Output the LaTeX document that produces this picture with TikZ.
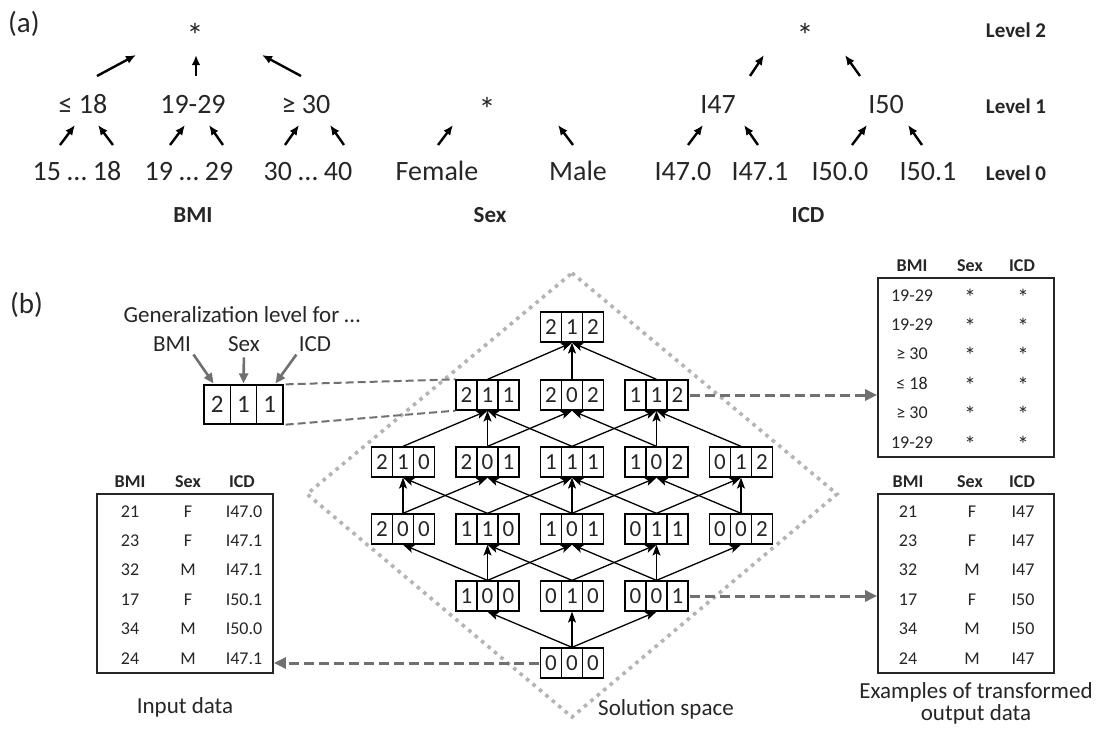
\documentclass[tikz,border=0pt]{standalone}
\usepackage{fontspec}
\setmainfont{Carlito}
\usetikzlibrary{arrows.meta}
\definecolor{tc}{HTML}{262626}
\definecolor{dgray}{HTML}{707070}
\definecolor{lgray}{HTML}{B4B4B4}
\newcommand{\myfs}[1]{\fontsize{#1}{#1}\selectfont}
\newcommand{\tri}[3]{\makebox[21pt]{#1}\makebox[21pt]{#2}\makebox[21pt]{#3}}
\newcommand{\bigtri}[3]{\makebox[26.3pt]{#1}\makebox[26.3pt]{#2}\makebox[26.3pt]{#3}}
\begin{document}
\begin{tikzpicture}[x=1pt,y=-1pt,
  every node/.style={inner sep=0pt, text=tc},
  lv/.style={font=\myfs{28}, anchor=base},
  star/.style={font=\myfs{34}, anchor=base},
  lvb/.style={font=\bfseries\myfs{21}, anchor=base},
  hb/.style={font=\bfseries\myfs{23}, anchor=base},
  gl/.style={font=\myfs{23}, anchor=base},
  th/.style={font=\bfseries\myfs{18}, anchor=base},
  td/.style={font=\myfs{18}, anchor=base},
  tstar/.style={font=\myfs{23}, anchor=base},
  harr/.style={line width=2.4pt, -{Latex[length=10pt,width=8.5pt]}},
  latarr/.style={line width=1.3pt, -{Stealth[length=11pt,width=8pt,inset=2.5pt]}},
  garr/.style={dgray, line width=2.6pt, -{Triangle[length=10pt,width=9pt]}},
  dasharr/.style={dgray, line width=3pt, dash pattern=on 10pt off 5pt, -{Triangle[length=12pt,width=11pt]}},
  thindash/.style={dgray, line width=2pt, dash pattern=on 8pt off 4pt},
  tbox/.style={draw=tc, line width=1.8pt, minimum width=176pt, minimum height=179pt},
  cell/.style={draw=black, line width=1.3pt, minimum height=30pt, font=\myfs{23},
     path picture={\draw[line width=1.3pt]
       ([xshift=#1]path picture bounding box.south west) -- ([xshift=#1]path picture bounding box.north west)
       ([xshift=-#1]path picture bounding box.south east) -- ([xshift=-#1]path picture bounding box.north east);}},
  cell/.default=21pt
]
\useasboundingbox (0,0) rectangle (1097,731);

% ---------------- (a) ----------------
\node[font=\myfs{29}, anchor=base west] (la) at (8,32) {(a)};

% BMI hierarchy
\node[star] (bmiS) at (195,47) {*};
\node[lv] (ble) at (83,113) {≤ 18};
\node[lv] (bmid) at (193,113) {19-29};
\node[lv] (bge) at (306,113) {≥ 30};
\node[lv] (b0a) at (77,180) {15 … 18};
\node[lv] (b0b) at (189,180) {19 … 29};
\node[lv] (b0c) at (308,180) {30 … 40};
\node[hb] (hBMI) at (193,222) {BMI};

% Sex hierarchy
\node[star] (sexS) at (487,121) {*};
\node[lv] (sF) at (437,180) {Female};
\node[lv] (sM) at (578,180) {Male};
\node[hb] (hSex) at (490,222) {Sex};

% ICD hierarchy
\node[star] (icdS) at (805,47) {*};
\node[lv] (i47) at (718,113) {I47};
\node[lv] (i50) at (886,113) {I50};
\node[lv] (i470) at (683,180) {I47.0};
\node[lv] (i471) at (760,180) {I47.1};
\node[lv] (i500) at (840,180) {I50.0};
\node[lv] (i501) at (928,180) {I50.1};
\node[hb] (hICD) at (808,222) {ICD};

% level labels
\node[lvb] (lv2) at (1016,37) {Level 2};
\node[lvb] (lv1) at (1016,113) {Level 1};
\node[lvb] (lv0) at (1016,180) {Level 0};

% hierarchy arrows
\foreach \n/\xa/\ya/\xb/\yb in {
  1/97/76/136/55, 2/196/76/196/55, 3/301/76/262/55,
  4/60/145/75/125, 5/113/145/98/125, 6/170/145/185/125, 7/223/145/209/125,
  8/285/145/299/125, 9/344/145/330/125,
  10/438/145/453/125, 11/573/145/558/125,
  12/750/76/764/55, 13/860/76/845/55,
  14/688/145/703/125, 15/758/145/744/125, 16/852/145/867/125, 17/922/145/908/125}
{
  \coordinate (hs\n) at (\xa,\ya);
  \coordinate (he\n) at (\xb,\yb);
  \draw[harr] (hs\n) -- (he\n);
}

% ---------------- (b) ----------------
\node[font=\myfs{29}, anchor=base west] (lb) at (10,313) {(b)};

% solution space diamond
\coordinate (dT) at (572,273);
\coordinate (dR) at (837,494);
\coordinate (dB) at (572,717);
\coordinate (dL) at (307,494);
\draw[lgray, line width=3.6pt, dash pattern=on 3.6pt off 4.8pt] (dT) -- (dR) -- (dB) -- (dL) -- cycle;
\node[gl] (sol) at (666,715) {Solution space};

% lattice nodes
\node[cell] (n212) at (572,327) {\tri212};
\node[cell] (n211) at (487.5,395) {\tri211};
\node[cell] (n202) at (572,395) {\tri202};
\node[cell] (n112) at (656.5,395) {\tri112};
\node[cell] (n210) at (403,462) {\tri210};
\node[cell] (n201) at (487.5,462) {\tri201};
\node[cell] (n111) at (572,462) {\tri111};
\node[cell] (n102) at (656.5,462) {\tri102};
\node[cell] (n012) at (741,462) {\tri012};
\node[cell] (n200) at (403,529) {\tri200};
\node[cell] (n110) at (487.5,529) {\tri110};
\node[cell] (n101) at (572,529) {\tri101};
\node[cell] (n011) at (656.5,529) {\tri011};
\node[cell] (n002) at (741,529) {\tri002};
\node[cell] (n100) at (487.5,596) {\tri100};
\node[cell] (n010) at (572,596) {\tri010};
\node[cell] (n001) at (656.5,596) {\tri001};
\node[cell] (n000) at (572,663) {\tri000};

\foreach \a/\b in {000/100,000/010,000/001,
  100/200,100/110,100/101, 010/110,010/011, 001/101,001/011,001/002,
  200/210,200/201, 110/210,110/111, 101/201,101/111,101/102, 011/111,011/012, 002/102,002/012,
  210/211, 201/211,201/202, 111/211,111/112, 102/202,102/112, 012/112,
  211/212, 202/212, 112/212}
  \draw[latarr] (n\a.north) -- (n\b.south);

% generalization level explanation
\node[gl] (glab) at (242,322) {Generalization level for …};
\node[gl] (gBMI) at (172,351) {BMI};
\node[gl] (gSex) at (244,351) {Sex};
\node[gl] (gICD) at (315,351) {ICD};
\node[cell=26.3pt, minimum height=39pt, font=\myfs{25}] (big) at (243.5,404.5) {\bigtri211};
\draw[garr, shorten <=4pt] (gBMI.south east) -- ([xshift=-30pt,yshift=1pt]big.north);
\draw[garr, shorten <=6pt] (gSex.south) -- ([yshift=1pt]big.north);
\draw[garr, shorten <=4pt] (gICD.south west) -- ([xshift=32pt,yshift=1pt]big.north);
\draw[thindash] ([xshift=2pt]big.north east) -- (n211.north west);
\draw[thindash] ([xshift=2pt]big.south east) -- (n211.south west);

% tables
\node[tbox] (tIn) at (185,583.5) {};
\node[tbox] (tTop) at (966,367.5) {};
\node[tbox] (tBot) at (966,583.5) {};

% input table
\node[th] (inhB) at (130,487) {BMI};
\node[th] (inhS) at (188,487) {Sex};
\node[th] (inhI) at (242,487) {ICD};
\foreach \b/\s/\c [count=\i] in {21/F/I47.0,23/F/I47.1,32/M/I47.1,17/F/I50.1,34/M/I50.0,24/M/I47.1}{
  \node[td] (inb\i) at (130,{517+(\i-1)*29.4}) {\b};
  \node[td] (ins\i) at (188,{517+(\i-1)*29.4}) {\s};
  \node[td] (inc\i) at (244,{517+(\i-1)*29.4}) {\c};
}
\node[gl] (capIn) at (185,713) {Input data};

% top right table
\node[th] (tthB) at (912,271) {BMI};
\node[th] (tthS) at (970,271) {Sex};
\node[th] (tthI) at (1022,271) {ICD};
\foreach \b [count=\i] in {19-29,19-29,≥ 30,≤ 18,≥ 30,19-29}{
  \node[td] (ttb\i) at (912,{301+(\i-1)*29.4}) {\b};
  \node[tstar] (tts\i) at (970,{305+(\i-1)*29.4}) {*};
  \node[tstar] (ttc\i) at (1023,{305+(\i-1)*29.4}) {*};
}

% bottom right table
\node[th] (tbhB) at (908,487) {BMI};
\node[th] (tbhS) at (970,487) {Sex};
\node[th] (tbhI) at (1022,487) {ICD};
\foreach \b/\s/\c [count=\i] in {21/F/I47,23/F/I47,32/M/I47,17/F/I50,34/M/I50,24/M/I47}{
  \node[td] (tbb\i) at (908,{517+(\i-1)*29.4}) {\b};
  \node[td] (tbs\i) at (972,{517+(\i-1)*29.4}) {\s};
  \node[td] (tbc\i) at (1023,{517+(\i-1)*29.4}) {\c};
}
\node[gl] (capOut1) at (976,698) {Examples of transformed};
\node[gl] (capOut2) at (976,720) {output data};

% dashed arrows
\draw[dasharr] ([xshift=1pt]n112.east) -- (n112.east -| tTop.west);
\draw[dasharr] ([xshift=1pt]n001.east) -- (n001.east -| tBot.west);
\draw[dasharr] ([xshift=-1pt]n000.west) -- (n000.west -| tIn.east);
\end{tikzpicture}
\end{document}
